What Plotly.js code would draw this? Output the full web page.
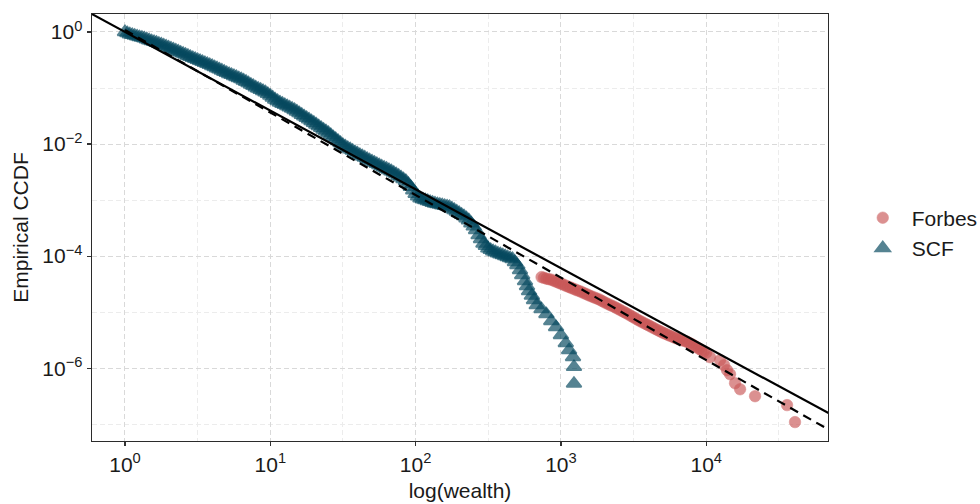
<!DOCTYPE html>
<html>
<head>
<meta charset="utf-8">
<script src="https://cdn.plot.ly/plotly-3.0.1.min.js"></script>
<style>html,body{margin:0;padding:0;background:#fff;}#chart{width:980px;height:504px;}</style>
</head>
<body>
<div id="chart"></div>
<script>
// ---- Data ----
const scfWealth = [
  1, 1.039, 1.08, 1.122, 1.166, 1.212, 1.259, 1.308, 1.359, 1.413, 1.468, 1.525, 1.585, 1.647, 1.711, 1.778,
  1.848, 1.92, 1.995, 2.073, 2.154, 2.239, 2.326, 2.417, 2.512, 2.61, 2.712, 2.818, 2.929, 3.043,
  3.162, 3.286, 3.415, 3.548, 3.687, 3.831, 3.981, 4.137, 4.299, 4.467, 4.642, 4.823, 5.012, 5.208,
  5.412, 5.623, 5.843, 6.072, 6.31, 6.557, 6.813, 7.079, 7.356, 7.644, 7.943, 8.254, 8.577, 8.913, 9.261, 9.624,
  10, 10.39, 10.8, 11.22, 11.66, 12.12, 12.59, 13.08, 13.59, 14.13, 14.68, 15.25, 15.85, 16.47, 17.11, 17.78,
  18.48, 19.2, 19.95, 20.73, 21.54, 22.39, 23.26, 24.17, 25.12, 26.1, 27.12, 28.18, 29.29, 30.43,
  31.62, 32.86, 34.15, 35.48, 36.87, 38.31, 39.81, 41.37, 42.99, 44.67, 46.42, 48.23, 50.12, 52.08,
  54.12, 56.23, 58.43, 60.72, 63.1, 65.57, 68.13, 70.79, 73.56, 76.44, 79.43, 82.54, 85.77, 89.13, 92.61, 96.24,
  100, 103.9, 108, 112.2, 116.6, 121.2, 125.9, 130.8, 135.9, 141.3, 146.8, 152.5, 158.5, 164.7, 171.1, 177.8,
  184.8, 192, 199.5, 207.3, 215.4, 223.9, 232.6, 241.7, 251.2, 260.6, 271.2, 281.8, 292.9, 304.3,
  316.2, 328.6, 341.5, 354.8, 368.7, 383.1, 398.1, 413.7, 429.9, 446.7, 464.2, 482.3,
  501.2, 522.8, 541.2, 566.2, 584.3, 603.3, 631, 652.7, 681.3, 735.6, 794.3, 857.7, 926.1, 1000, 1080,
  1138, 1211, 1230, 1230
];
const scfCCDF = [
  1, 0.954, 0.91, 0.885, 0.86, 0.835, 0.81, 0.79, 0.77, 0.74, 0.71, 0.687, 0.665, 0.642, 0.62, 0.597,
  0.574, 0.551, 0.528, 0.507, 0.487, 0.467, 0.447, 0.428, 0.41, 0.393, 0.376, 0.36, 0.345, 0.331,
  0.318, 0.305, 0.292, 0.28, 0.269, 0.258, 0.247, 0.236, 0.225, 0.215, 0.205, 0.195, 0.186, 0.178,
  0.171, 0.164, 0.157, 0.15, 0.144, 0.136, 0.129, 0.122, 0.115, 0.109, 0.1026, 0.0976, 0.0929, 0.0884, 0.0841, 0.0784,
  0.0731, 0.0675, 0.0623, 0.0586, 0.0551, 0.0524, 0.0499, 0.0474, 0.0451, 0.0427, 0.0405, 0.038, 0.0356, 0.0333, 0.0312, 0.0293,
  0.0275, 0.0256, 0.0239, 0.0223, 0.0208, 0.0194, 0.0181, 0.0169, 0.0157, 0.0145, 0.0133, 0.0123, 0.0113, 0.0104,
  0.00964, 0.00908, 0.00855, 0.00807, 0.00762, 0.00718, 0.00676, 0.0064, 0.00605, 0.00574, 0.00544, 0.00517, 0.00491, 0.00466,
  0.00442, 0.00419, 0.00398, 0.00379, 0.00361, 0.00344, 0.00327, 0.00308, 0.0029, 0.00271, 0.00254, 0.00236, 0.00219, 0.00194, 0.00172, 0.00149,
  0.00129, 0.00117, 0.00107, 0.00103, 0.000995, 0.00096, 0.000925, 0.000895, 0.000867, 0.000847, 0.000828, 0.000807, 0.000787, 0.00077, 0.000753, 0.000708,
  0.000665, 0.000624, 0.000586, 0.000549, 0.000515, 0.000474, 0.000436, 0.000384, 0.000338, 0.000291, 0.000236, 0.000201, 0.000168, 0.000152,
  0.000137, 0.000129, 0.000122, 0.000117, 0.000112, 0.000108, 0.000104, 0.0000997, 0.0000955, 0.000092, 0.0000887, 0.0000782,
  6.9e-5, 5.62e-5, 4.58e-5, 3.58e-5, 2.91e-5, 2.37e-5, 1.97e-5, 1.64e-5, 1.33e-5, 1.13e-5, 9.2e-6, 6.9e-6, 5.4e-6, 3.9e-6, 2.8e-6,
  2.1e-6, 1.58e-6, 1.05e-6, 5.3e-7
];
const forbesWealth = [
  735.6, 764.4, 794.3, 825.4, 857.7, 891.3, 926.1, 962.4,
  1000, 1039, 1080, 1122, 1166, 1212, 1259, 1308, 1359, 1413, 1468, 1525, 1585, 1647, 1711, 1778,
  1848, 1920, 1995, 2073, 2154, 2239, 2326, 2417, 2512, 2610, 2712, 2818, 2929, 3043,
  3162, 3286, 3415, 3548, 3687, 3831, 3981, 4137, 4299, 4467, 4642, 4823, 5012, 5208,
  5412, 5623, 5843, 6072, 6310, 6557, 6813, 7079, 7356, 7644, 7943, 8254, 8577, 8913, 9261, 9624, 10000,
  10620, 12450, 13270, 13900, 14590, 15780, 17100, 21680, 35990, 40830
];
const forbesCCDF = [
  4.22e-5, 4.09e-5, 3.96e-5, 3.88e-5, 3.8e-5, 3.65e-5, 3.5e-5, 3.36e-5,
  3.23e-5, 3.1e-5, 2.97e-5, 2.85e-5, 2.74e-5, 2.63e-5, 2.52e-5, 2.43e-5, 2.34e-5, 2.24e-5, 2.14e-5, 2.05e-5, 1.96e-5, 1.88e-5, 1.81e-5, 1.74e-5,
  1.67e-5, 1.58e-5, 1.5e-5, 1.43e-5, 1.36e-5, 1.3e-5, 1.25e-5, 1.18e-5, 1.12e-5, 1.06e-5, 1.01e-5, 9.57e-6, 9.06e-6, 8.55e-6,
  8.07e-6, 7.62e-6, 7.2e-6, 6.83e-6, 6.47e-6, 6.16e-6, 5.86e-6, 5.57e-6, 5.29e-6, 5.02e-6, 4.77e-6, 4.54e-6, 4.32e-6, 4.14e-6,
  3.96e-6, 3.8e-6, 3.65e-6, 3.5e-6, 3.36e-6, 3.26e-6, 3.16e-6, 3.06e-6, 2.97e-6, 2.82e-6, 2.68e-6, 2.52e-6, 2.37e-6, 2.23e-6, 2.1e-6, 1.99e-6, 1.89e-6,
  1.57e-6, 1.39e-6, 1.13e-6, 9.2e-7, 7.8e-7, 5.4e-7, 4.2e-7, 3.16e-7, 2.19e-7, 1.09e-7
];
// power-law fit lines (endpoints)
const fitSolidX = [0.5, 1e5];
const fitSolidY = [2.65, 9.44e-8];
const fitDashX = [1, 1e5];
const fitDashY = [1.086, 4.69e-8];
// axis ticks
const xTickVals = [1, 10, 100, 1000, 10000];
const xTickText = ['10<sup>0</sup>', '10<sup>1</sup>', '10<sup>2</sup>', '10<sup>3</sup>', '10<sup>4</sup>'];
const xMinorVals = [3.162, 31.62, 316.2, 3162, 31623];
const yTickVals = [1, 1e-2, 1e-4, 1e-6];
const yTickText = ['10<sup>0</sup>', '10<sup>\u22122</sup>', '10<sup>\u22124</sup>', '10<sup>\u22126</sup>'];
const yMinorVals = [1e-1, 1e-3, 1e-5, 1e-7];

const scfColor = '#06495F';
const forbesColor = '#C95858';

const traces = [
  {x: forbesWealth, y: forbesCCDF, name: 'Forbes', type: 'scatter', mode: 'markers',
   marker: {symbol: 'circle', size: 11.5, color: forbesColor, opacity: 0.66, line: {width: 0.6, color: forbesColor}}},
  {x: scfWealth, y: scfCCDF, name: 'SCF', type: 'scatter', mode: 'markers',
   marker: {symbol: 'triangle-up', size: 13, color: scfColor, opacity: 0.68, line: {width: 1.8, color: scfColor}}},
  {x: fitSolidX, y: fitSolidY, type: 'scatter', mode: 'lines', showlegend: false,
   line: {color: '#000', width: 2.2}},
  {x: fitDashX, y: fitDashY, type: 'scatter', mode: 'lines', showlegend: false,
   line: {color: '#000', width: 2.2, dash: '9px,6px'}}
];

const axisCommon = {
  type: 'log', showline: true, mirror: true, linecolor: '#2b2b2b', linewidth: 1.4,
  ticks: 'outside', ticklen: 4, tickwidth: 1.2, tickcolor: '#333',
  showgrid: true, gridcolor: '#d9d9d9', gridwidth: 1, griddash: '5px,3px', zeroline: false,
  tickfont: {size: 21, color: '#1a1a1a'}, automargin: false
};

const layout = {
  width: 980, height: 504,
  margin: {l: 92, r: 152, t: 14, b: 63, autoexpand: false},
  paper_bgcolor: '#fff', plot_bgcolor: '#fff',
  font: {family: '"Liberation Sans", Arial, sans-serif', size: 21, color: '#1a1a1a'},
  showlegend: true,
  xaxis: Object.assign({}, axisCommon, {
    range: [-0.227, 4.838], tickmode: 'array', tickvals: xTickVals, ticktext: xTickText,
    minor: {tickvals: xMinorVals, showgrid: true, gridcolor: '#ececec', gridwidth: 1, griddash: '5px,3px', ticks: ''},
    title: {text: 'log(wealth)', standoff: 8, font: {size: 21, color: '#1a1a1a'}}
  }),
  yaxis: Object.assign({}, axisCommon, {
    range: [-7.30, 0.321], tickmode: 'array', tickvals: yTickVals, ticktext: yTickText,
    minor: {tickvals: yMinorVals, showgrid: true, gridcolor: '#ececec', gridwidth: 1, griddash: '5px,3px', ticks: ''},
    title: {text: 'Empirical CCDF', standoff: 8, font: {size: 21, color: '#1a1a1a'}}
  }),
  legend: {x: 1.035, y: 0.487, xanchor: 'left', yanchor: 'middle', itemwidth: 48,
           font: {size: 21, color: '#1a1a1a'}, bgcolor: 'rgba(0,0,0,0)', tracegroupgap: 0}
};

Plotly.newPlot('chart', traces, layout, {staticPlot: true, displayModeBar: false});
</script>
</body>
</html>
